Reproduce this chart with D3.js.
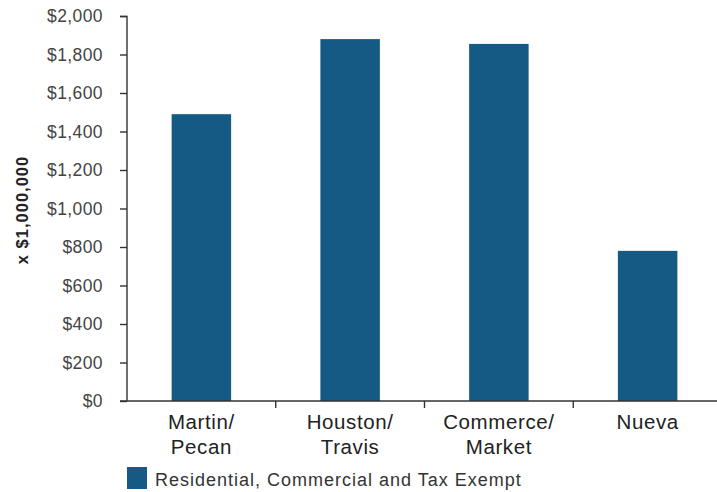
<!DOCTYPE html>
<html>
<head>
<meta charset="utf-8">
<script src="https://cdn.jsdelivr.net/npm/d3@7"></script>
<style>
  body { margin: 0; background: #fff; }
  text { font-family: "Liberation Sans", Arial, sans-serif; }
</style>
</head>
<body>
<div id="chart"></div>
<script>
const categories = [["Martin/", "Pecan"], ["Houston/", "Travis"], ["Commerce/", "Market"], ["Nueva"]];
const values = [1490, 1880, 1855, 780];
const yTicks = [0, 200, 400, 600, 800, 1000, 1200, 1400, 1600, 1800, 2000];
const seriesName = "Residential, Commercial and Tax Exempt";
const yTitle = "x $1,000,000";

const width = 717, height = 492;
const barColor = "#145a85";

const svg = d3.select("#chart").append("svg")
    .attr("width", width)
    .attr("height", height);

const x = d3.scaleBand()
    .domain(d3.range(categories.length))
    .range([127, 722])
    .paddingInner(0.6)
    .paddingOuter(0.3);

const y = d3.scaleLinear()
    .domain([0, 2000])
    .range([401, 16]);

// bars
svg.selectAll(".bar")
    .data(values)
    .enter().append("rect")
    .attr("class", "bar")
    .attr("x", (d, i) => x(i))
    .attr("y", d => y(d))
    .attr("width", x.bandwidth())
    .attr("height", d => y(0) - y(d))
    .attr("fill", barColor);

// y axis
const yAxis = svg.append("g")
    .attr("transform", "translate(127,0)")
    .call(d3.axisLeft(y).tickValues(yTicks).tickSize(7).tickPadding(17)
        .tickFormat(d => "$" + d3.format(",")(d)));
yAxis.select(".domain").attr("stroke", "#333").attr("stroke-width", 1.4)
    .attr("d", "M-7,16.5H0V401");
yAxis.selectAll(".tick line").attr("stroke", "#333").attr("stroke-width", 1.4);
yAxis.selectAll(".tick text")
    .attr("fill", "#444")
    .style("font-size", "17.5px")
    .style("letter-spacing", "0.4px");

// x axis: ticks between categories
const step = x.step();
const boundaries = d3.range(1, categories.length + 1).map(i => x.range()[0] + i * step);
const xAxis = svg.append("g");
xAxis.append("line")
    .attr("x1", 120).attr("x2", width)
    .attr("y1", y(0)).attr("y2", y(0))
    .attr("stroke", "#333").attr("stroke-width", 1.4);
xAxis.selectAll(".xtick")
    .data(boundaries)
    .enter().append("line")
    .attr("x1", d => d).attr("x2", d => d)
    .attr("y1", y(0)).attr("y2", y(0) + 7)
    .attr("stroke", "#333").attr("stroke-width", 1.4);

const labels = svg.selectAll(".xlabel")
    .data(categories)
    .enter().append("text")
    .attr("class", "xlabel")
    .attr("text-anchor", "middle")
    .attr("fill", "#222")
    .style("font-size", "20.5px")
    .style("letter-spacing", "0.6px");
labels.selectAll("tspan")
    .data((d, i) => d.map(t => ({ t: t, i: i })))
    .enter().append("tspan")
    .attr("x", d => x(d.i) + x.bandwidth() / 2)
    .attr("y", (d, j) => 429 + j * 25)
    .text(d => d.t);

// y title
svg.append("text")
    .attr("transform", "translate(28,210) rotate(-90)")
    .attr("text-anchor", "middle")
    .attr("fill", "#222")
    .style("font-size", "16.5px")
    .style("font-weight", "bold")
    .style("letter-spacing", "1px")
    .text(yTitle);

// legend
svg.append("rect")
    .attr("x", 127).attr("y", 467)
    .attr("width", 20).attr("height", 22)
    .attr("fill", barColor);
svg.append("text")
    .attr("x", 155).attr("y", 486)
    .attr("fill", "#333")
    .style("font-size", "18px")
    .style("letter-spacing", "1px")
    .text(seriesName);
</script>
</body>
</html>
